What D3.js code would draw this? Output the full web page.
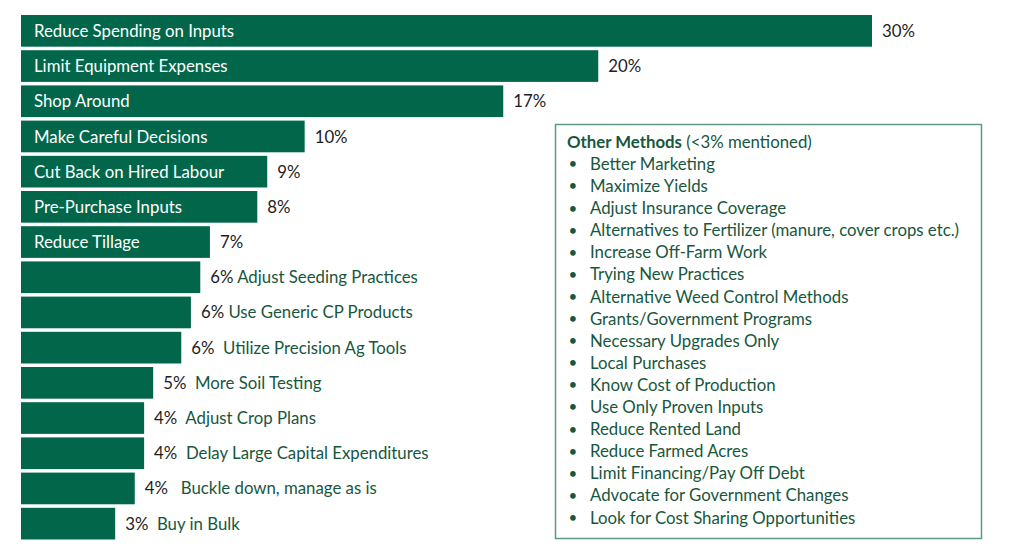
<!DOCTYPE html>
<html>
<head>
<meta charset="utf-8">
<script src="https://cdn.jsdelivr.net/npm/d3@7"></script>
<style>
  html, body { margin: 0; padding: 0; background: #fff; }
  svg { display: block; }
  text { font-family: Lato, "Open Sans", sans-serif; white-space: pre; }
</style>
</head>
<body>
<svg id="chart" width="1024" height="546"></svg>
<script>
// ---- data ----
const categories = [
  "Reduce Spending on Inputs", "Limit Equipment Expenses", "Shop Around",
  "Make Careful Decisions", "Cut Back on Hired Labour", "Pre-Purchase Inputs",
  "Reduce Tillage", "Adjust Seeding Practices", "Use Generic CP Products",
  "Utilize Precision Ag Tools", "More Soil Testing", "Adjust Crop Plans",
  "Delay Large Capital Expenditures", "Buckle down, manage as is", "Buy in Bulk"
];
const values = [30.0, 20.35, 17.0, 10.0, 8.68, 8.33, 6.66, 6.32, 5.99, 5.65, 4.66, 4.34, 4.34, 4.01, 3.32];
const pctLabels = ["30%", "20%", "17%", "10%", "9%", "8%", "7%", "6%", "6%", "6%", "5%", "4%", "4%", "4%", "3%"];
// names shown inside the bar (true) or after the percent label (false)
const nameInside = [true, true, true, true, true, true, true, false, false, false, false, false, false, false, false];
// spaces between percent and outside name, as in the original
const nameSep = [" ", " ", " ", " ", " ", " ", " ", " ", " ", "  ", "  ", "  ", "  ", "   ", "  "];

const otherTitle = "Other Methods";
const otherSubtitle = " (<3% mentioned)";
const otherMethods = [
  "Better Marketing", "Maximize Yields", "Adjust Insurance Coverage",
  "Alternatives to Fertilizer (manure, cover crops etc.)", "Increase Off-Farm Work",
  "Trying New Practices", "Alternative Weed Control Methods", "Grants/Government Programs",
  "Necessary Upgrades Only", "Local Purchases", "Know Cost of Production",
  "Use Only Proven Inputs", "Reduce Rented Land", "Reduce Farmed Acres",
  "Limit Financing/Pay Off Debt", "Advocate for Government Changes",
  "Look for Cost Sharing Opportunities"
];

// ---- styles ----
const barColor = "#02674a";
const greenText = "#17573d";
const pctColor = "#1e1e1e";
const fontSize = 16.8;

const svg = d3.select("#chart");

const x = d3.scaleLinear().domain([0, 30]).range([21, 872]);
const y = d3.scaleBand().domain(categories).range([11.5, 543]).paddingInner(0.1).paddingOuter(0.1);

const rows = categories.map((c, i) => ({
  c, v: values[i], pct: pctLabels[i], inside: nameInside[i], sep: nameSep[i]
}));

const g = svg.append("g");

g.selectAll("rect.bar").data(rows).join("rect")
  .attr("class", "bar")
  .attr("x", x(0))
  .attr("y", d => y(d.c))
  .attr("width", d => x(d.v) - x(0))
  .attr("height", y.bandwidth())
  .attr("fill", barColor);

// names inside bars
g.selectAll("text.inname").data(rows.filter(d => d.inside)).join("text")
  .attr("class", "inname")
  .attr("x", x(0) + 13)
  .attr("y", d => y(d.c) + y.bandwidth() / 2)
  .attr("dy", "0.36em")
  .attr("font-size", fontSize)
  .attr("fill", "#ffffff")
  .text(d => d.c);

// percent labels (+ outside names)
const lab = g.selectAll("text.pct").data(rows).join("text")
  .attr("class", "pct")
  .attr("x", d => x(d.v) + 10)
  .attr("y", d => y(d.c) + y.bandwidth() / 2)
  .attr("dy", "0.36em")
  .attr("font-size", fontSize);
lab.append("tspan").attr("fill", pctColor).text(d => d.pct);
lab.filter(d => !d.inside).append("tspan").attr("fill", greenText).text(d => d.sep + d.c);

// ---- Other methods box ----
const box = { x0: 555, y0: 124, x1: 981, y1: 538 };
svg.append("rect")
  .attr("x", box.x0 + 0.5).attr("y", box.y0 + 0.5)
  .attr("width", box.x1 - box.x0).attr("height", box.y1 - box.y0)
  .attr("fill", "none").attr("stroke", "#5c9a82").attr("stroke-width", 1.5);

const lineY = d3.scaleLinear().domain([0, 1]).range([141.8, 163.9]);
const t = svg.append("text")
  .attr("x", 567).attr("y", lineY(0)).attr("dy", "0.36em")
  .attr("font-size", fontSize).attr("fill", greenText);
t.append("tspan").attr("font-weight", "bold").text(otherTitle);
t.append("tspan").text(otherSubtitle);

const items = svg.selectAll("g.item").data(otherMethods).join("g").attr("class", "item");
items.append("text")
  .attr("x", 568.5).attr("y", (d, i) => lineY(i + 1)).attr("dy", "0.36em")
  .attr("font-size", fontSize * 0.9).attr("fill", greenText).text("•");
items.append("text")
  .attr("x", 590).attr("y", (d, i) => lineY(i + 1)).attr("dy", "0.36em")
  .attr("font-size", fontSize).attr("fill", greenText).text(d => d);
</script>
</body>
</html>
